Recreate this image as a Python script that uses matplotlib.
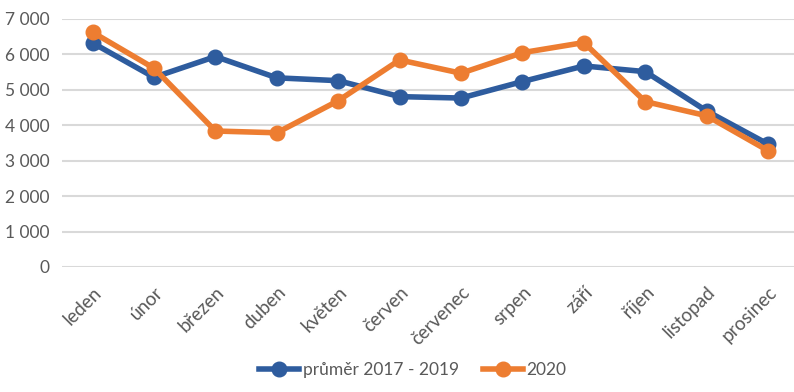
import matplotlib.pyplot as plt
from matplotlib.ticker import FuncFormatter

# months (Czech)
months = ["leden", "únor", "březen", "duben", "květen", "červen",
          "červenec", "srpen", "září", "říjen", "listopad", "prosinec"]

# values
avg_2017_2019 = [6320, 5350, 5935, 5335, 5255, 4805, 4765, 5230, 5670, 5510, 4400, 3465]
year_2020 = [6620, 5605, 3835, 3785, 4690, 5840, 5465, 6045, 6330, 4665, 4265, 3280]

label_avg = "průměr 2017 - 2019"
label_2020 = "2020"

BLUE = "#2E5C9E"
ORANGE = "#ED7D31"
TEXT = "#595959"

plt.rcParams['font.family'] = ['Lato', 'DejaVu Sans']

fig = plt.figure(figsize=(7.94, 3.92), dpi=100)
ax = fig.add_axes([0.078, 0.319, 0.928, 0.633])

x = range(len(months))
ax.plot(x, avg_2017_2019, '-o', color=BLUE, lw=4, markersize=10.5, label=label_avg,
        solid_joinstyle='round', zorder=3)
ax.plot(x, year_2020, '-o', color=ORANGE, lw=4, markersize=10.5, label=label_2020,
        solid_joinstyle='round', zorder=4)

ax.set_xlim(-0.5, len(months) - 0.5)
ax.set_ylim(0, 7000)
ax.set_yticks(range(0, 7001, 1000))
ax.yaxis.set_major_formatter(FuncFormatter(lambda v, p: f"{int(v):,}".replace(",", " ")))
ax.grid(axis='y', color='#D9D9D9', lw=1.5)
ax.set_axisbelow(True)
for s in ax.spines.values():
    s.set_visible(False)
ax.tick_params(length=0, colors=TEXT, labelsize=12.5)
ax.tick_params(axis='y', pad=9)

ax.set_xticks(list(x))
ax.set_xticklabels(months, rotation=45, ha='right', rotation_mode='anchor',
                   fontsize=13.5, color=TEXT)
ax.tick_params(axis='x', pad=12)

leg = fig.legend(loc='center', bbox_to_anchor=(0.52, 0.056), ncol=2, frameon=False,
                 fontsize=12.5, handlelength=2.3, columnspacing=1.4, handletextpad=0.2)
for t in leg.get_texts():
    t.set_color(TEXT)

fig.savefig("out.png", dpi=100)
